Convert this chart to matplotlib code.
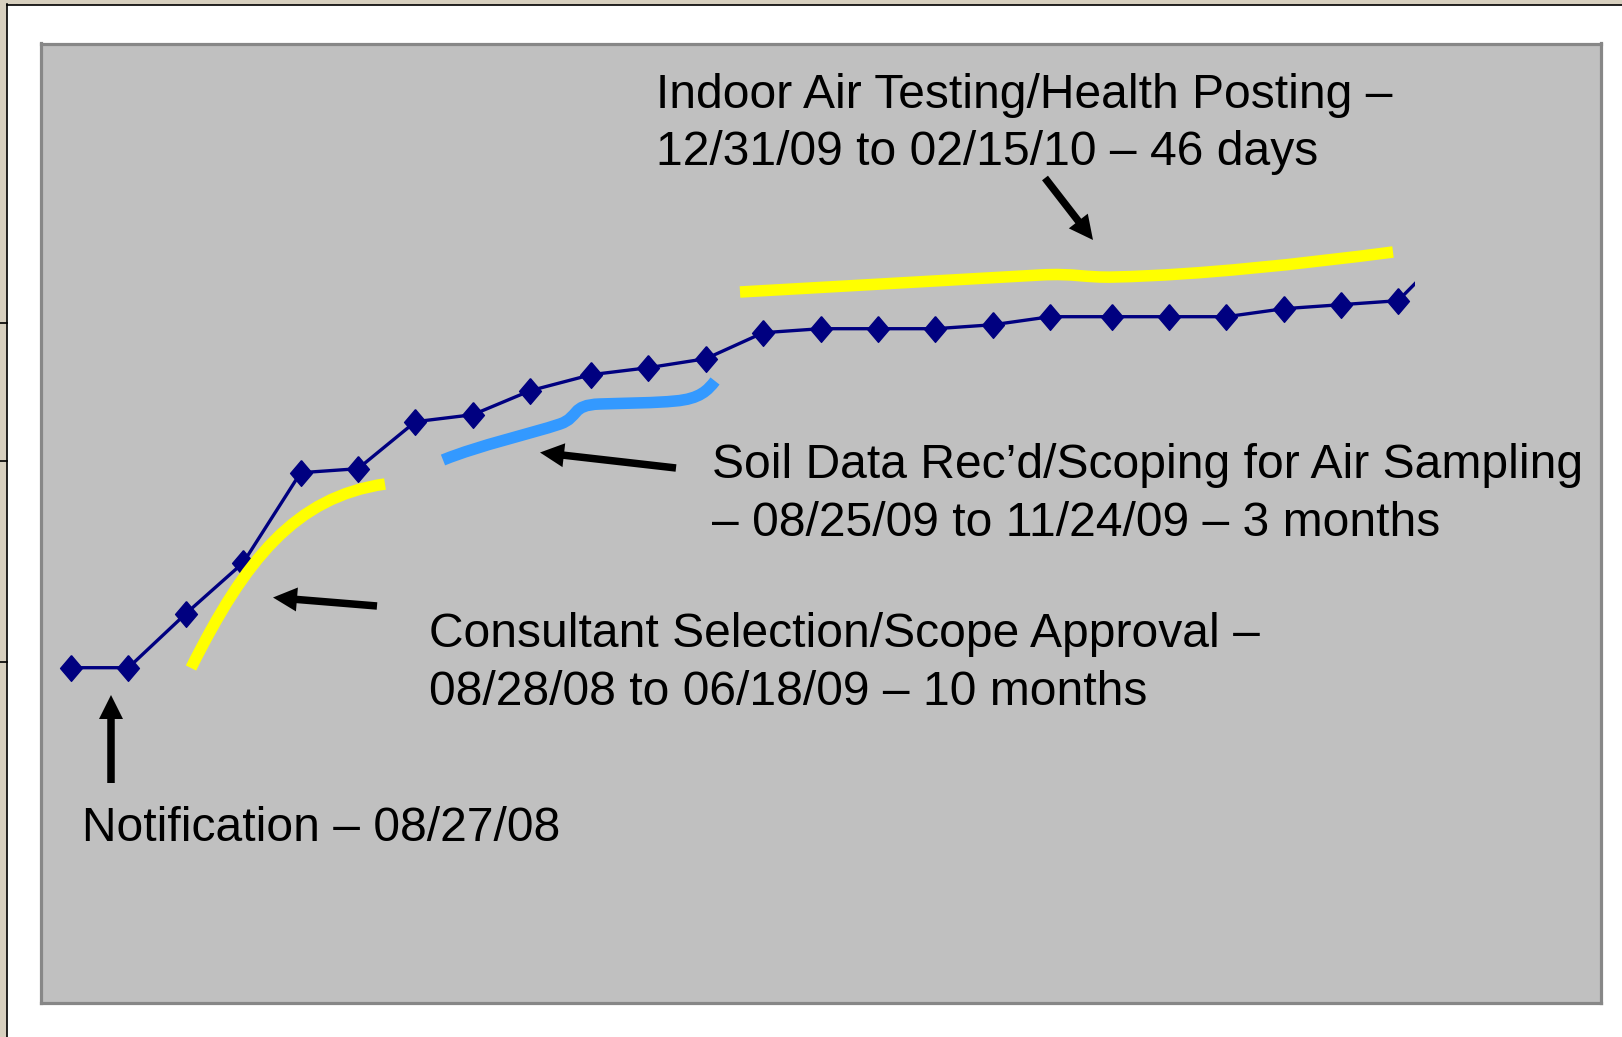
import matplotlib
matplotlib.use("Agg")
import matplotlib.pyplot as plt
from matplotlib.path import Path
from matplotlib.patches import PathPatch, FancyArrow, Rectangle
from matplotlib.transforms import Affine2D

plt.rcParams['font.family'] = ['Liberation Sans', 'DejaVu Sans']

# months since notification (08/27/08) and cumulative progress (arbitrary units)
months = [0, 1, 2, 3, 4, 5, 6, 7, 8, 9.06, 10.06, 11.06, 12.06, 13.06, 14.06,
          15.06, 16.07, 17.06, 18.13, 19.13, 20.13, 21.13, 22.12, 23.12, 24.12]
progress = [0, 0, 5.4, 10.5, 19.5, 19.9, 24.6, 25.3, 27.7, 29.3, 30.0, 30.9,
            33.5, 33.9, 33.9, 33.9, 34.3, 35.1, 35.1, 35.1, 35.1, 35.9, 36.3,
            36.7, 42.5]

labels = {
    "indoor": ["Indoor Air Testing/Health Posting \u2013",
               "12/31/09 to 02/15/10 \u2013 46 days"],
    "soil": ["Soil Data Rec\u2019d/Scoping for Air Sampling",
             "\u2013 08/25/09 to 11/24/09 \u2013 3 months"],
    "consult": ["Consultant Selection/Scope Approval \u2013",
                "08/28/08 to 06/18/09 \u2013 10 months"],
    "notify": ["Notification \u2013 08/27/08"],
}

W, H = 1622, 1037
fig = plt.figure(figsize=(W / 100, H / 100), dpi=100)
fig.patch.set_facecolor('white')

# pixel transform, origin top-left
pix = Affine2D().scale(1, -1).translate(0, H)

# slide frame on the left / top
for r in [Rectangle((0, 0), 7, H), Rectangle((0, 0), W, 4.5)]:
    r.set_transform(pix)
    r.set_facecolor('#d8d0bf')
    r.set_edgecolor('none')
    fig.add_artist(r)
fig.add_artist(plt.Line2D([7, 7], [4, H], transform=pix, color='black', lw=1.2))
fig.add_artist(plt.Line2D([7, W], [5, 5], transform=pix, color='black', lw=1.2))
for yy in [323, 461, 662]:
    fig.add_artist(plt.Line2D([0, 7], [yy, yy], transform=pix, color='black', lw=1.2))

# chart area
ax = fig.add_axes([41 / W, 1 - 1003 / H, (1601 - 41) / W, (1003 - 43.5) / H])
ax.set_facecolor('#c0c0c0')
for s in ax.spines.values():
    s.set_color('#878787')
    s.set_linewidth(2.3)
ax.set_xticks([])
ax.set_yticks([])
ax.set_xlim(-0.5226, 26.655)
ax.set_ylim(-33.53, 62.42)

diamond = [(0, 1), (0.85, 0), (0, -1), (-0.85, 0), (0, 1)]
line, = ax.plot(months, progress, color='#000080', lw=2.4, marker=diamond,
                markersize=18.5, markerfacecolor='#000080', markeredgecolor='#000080')
clip = Rectangle((-1, -100), 23.41 + 1, 300, transform=ax.transData)
line.set_clip_path(clip)

# highlight strokes
def stroke(verts, codes, color):
    p = PathPatch(Path(verts, codes), facecolor='none', edgecolor=color,
                  lw=8.3, capstyle='butt', joinstyle='round', transform=pix)
    fig.add_artist(p)

C4 = Path.CURVE4
stroke([(191, 668), (245, 560), (295, 497), (385, 484)],
       [Path.MOVETO, C4, C4, C4], '#ffff00')
stroke([(443, 460), (480, 445), (530, 434), (560, 424),
        (580, 417), (570, 405), (600, 404),
        (630, 403), (655, 403), (675, 401),
        (700, 399), (708, 390), (715, 381)],
       [Path.MOVETO, C4, C4, C4, C4, C4, C4, C4, C4, C4, C4, C4, C4], '#3399ff')
stroke([(740, 292), (1040, 275),
        (1075, 273), (1085, 278), (1115, 277),
        (1200, 275), (1300, 264), (1393, 252)],
       [Path.MOVETO, Path.LINETO, C4, C4, C4, C4, C4, C4], '#ffff00')

# arrows (tail -> tip)
arrows = [((111, 783), (111, 695)),
          ((377, 606), (273, 597.5)),
          ((676, 468), (540, 452.5)),
          ((1045, 178), (1093, 240))]
for (x0, y0), (x1, y1) in arrows:
    a = FancyArrow(x0, y0, x1 - x0, y1 - y0, width=7.5, head_width=24,
                   head_length=24, length_includes_head=True,
                   color='black', lw=0, transform=pix)
    fig.add_artist(a)

# texts
fs = 34.6
def put(lines, x, ys):
    for s, y in zip(lines, ys):
        fig.text(x, y, s, transform=pix, fontsize=fs, color='black',
                 ha='left', va='baseline')

put(labels["indoor"], 656, [108, 165])
put(labels["soil"], 711.5, [478.5, 536])
put(labels["consult"], 429, [647, 705])
put(labels["notify"], 82.5, [841])

fig.savefig('out.png', dpi=100)
